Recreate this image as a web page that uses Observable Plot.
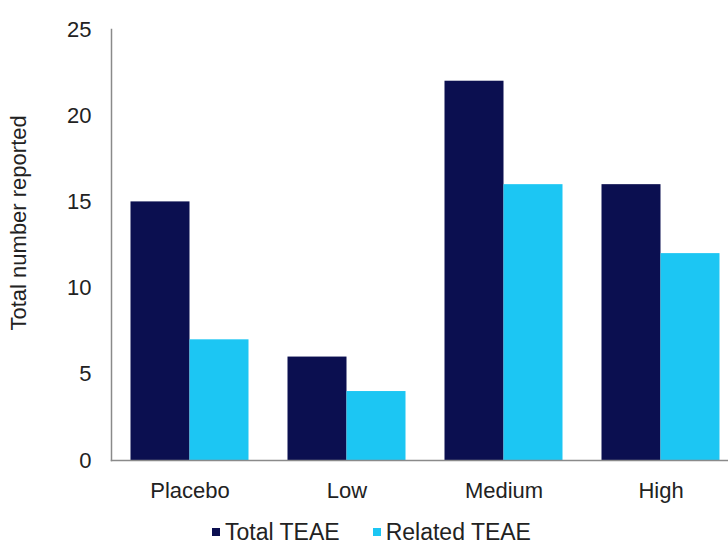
<!DOCTYPE html>
<html>
<head>
<meta charset="utf-8">
<script src="https://cdn.jsdelivr.net/npm/d3@7"></script>
<script src="https://cdn.jsdelivr.net/npm/@observablehq/plot@0.6"></script>
<style>
  html, body { margin: 0; padding: 0; background: #fff; overflow: hidden; width: 728px; height: 545px; }
  #chart { position: relative; width: 728px; height: 545px; overflow: hidden; font-family: "Liberation Sans", Arial, sans-serif; }
  #legend { position: absolute; left: 212px; top: 519px; display: flex; align-items: center; font-size: 23px; line-height: 26px; color: #222; white-space: nowrap; }
  .item { display: flex; align-items: center; }
  .item:first-child { margin-right: 33px; }
  .sw { width: 8px; height: 8px; margin-right: 5px; }
</style>
</head>
<body>
<div id="chart"></div>
<script>
const categories = ["Placebo", "Low", "Medium", "High"];
const seriesNames = ["Total TEAE", "Related TEAE"];
const totalTEAE = [15, 6, 22, 16];
const relatedTEAE = [7, 4, 16, 12];
const yTicks = [0, 5, 10, 15, 20, 25];
const yLabel = "Total number reported";
const colors = ["#0b0f50", "#1cc6f3"];

const data = [];
categories.forEach((c, i) => {
  data.push({group: c, series: seriesNames[0], value: totalTEAE[i]});
  data.push({group: c, series: seriesNames[1], value: relatedTEAE[i]});
});

const plot = Plot.plot({
  width: 728,
  height: 500,
  marginLeft: 110.5,
  marginRight: -10.5,
  marginTop: 29,
  marginBottom: 40,
  style: {fontFamily: "'Liberation Sans', Arial, sans-serif", fontSize: "22px", color: "#222", background: "transparent"},
  fx: {domain: categories, padding: 0},
  x: {domain: seriesNames, paddingInner: 0, paddingOuter: 0.32, axis: null},
  y: {domain: [0, 25], ticks: yTicks},
  color: {domain: seriesNames, range: colors},
  marks: [
    Plot.barY(data, {fx: "group", x: "series", y: "value", fill: "series"}),
    Plot.frame({anchor: "left", facet: "super", stroke: "#8a8a8a", strokeWidth: 1.5, strokeOpacity: 1}),
    Plot.frame({anchor: "bottom", facet: "super", stroke: "#8a8a8a", strokeWidth: 1.5, strokeOpacity: 1}),
    Plot.axisY(yTicks, {tickSize: 0, tickPadding: 20, label: null, fontSize: 22}),
    Plot.text([yLabel], {facet: "super", frameAnchor: "left", rotate: -90, dx: -92.5, dy: 85.5, fontSize: 22, fill: "#222"}),
    Plot.axisFx({anchor: "bottom", tickSize: 0, tickPadding: 22, label: null, fontSize: 22})
  ]
});
plot.style.maxWidth = "none";
plot.style.overflow = "visible";
document.getElementById("chart").appendChild(plot);

const legend = document.createElement("div");
legend.id = "legend";
seriesNames.forEach((s, i) => {
  const it = document.createElement("div");
  it.className = "item";
  const sw = document.createElement("span");
  sw.className = "sw";
  sw.style.background = colors[i];
  const t = document.createElement("span");
  t.textContent = s;
  it.appendChild(sw); it.appendChild(t);
  legend.appendChild(it);
});
document.getElementById("chart").appendChild(legend);
</script>
</body>
</html>
